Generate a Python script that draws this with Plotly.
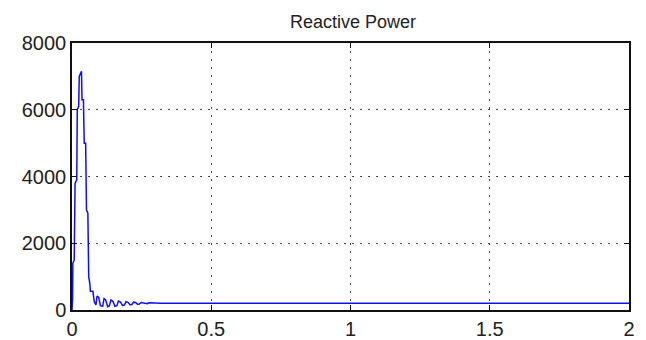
import plotly.graph_objects as go

time_s = [0, 0.002, 0.003, 0.008, 0.011, 0.017, 0.019, 0.024, 0.026, 0.034, 0.036, 0.041,
          0.044, 0.049, 0.052, 0.057, 0.060, 0.064, 0.066, 0.075,
          0.080, 0.086, 0.090, 0.096, 0.102, 0.110, 0.115, 0.121, 0.128, 0.134, 0.140,
          0.147, 0.154, 0.161, 0.167, 0.174, 0.181, 0.188, 0.194, 0.201, 0.208, 0.215,
          0.221, 0.228, 0.235, 0.242, 0.248, 0.255, 0.262, 0.270, 0.276, 0.290, 0.305,
          0.320, 0.340, 2.0]
reactive_power = [0, 300, 1400, 1500, 3800, 3900, 6000, 6100, 7000, 7150, 6300, 6300,
                  5000, 5000, 3000, 2900, 1000, 800, 560, 560,
                  250, 150, 420, 380, 130, 110, 340, 300, 100, 120, 300,
                  260, 110, 130, 270, 240, 140, 150, 250, 230, 160, 165,
                  235, 225, 175, 180, 225, 215, 185, 190, 215, 205, 195,
                  205, 200, 200]

x_ticks = [0, 0.5, 1, 1.5, 2]
x_tick_labels = ["0", "0.5", "1", "1.5", "2"]
y_ticks = [0, 2000, 4000, 6000, 8000]
y_tick_labels = ["0", "2000", "4000", "6000", "8000"]

fig = go.Figure()
fig.add_trace(go.Scatter(x=time_s, y=reactive_power, mode="lines",
                         line=dict(color="#1010ee", width=1.5), showlegend=False))

axis_common = dict(showline=True, linecolor="#111111", linewidth=1.5, mirror="ticks",
                   ticks="inside", ticklen=5, tickcolor="#111111",
                   showgrid=True, gridcolor="#444444", gridwidth=1, griddash="2px,6px",
                   zeroline=False, automargin=False,
                   tickfont=dict(family="Liberation Sans, Arial", size=20, color="#222222"))

fig.update_xaxes(range=[0, 2], tickvals=x_ticks, ticktext=x_tick_labels, **axis_common)
fig.update_yaxes(range=[0, 8000], tickvals=y_ticks, ticktext=y_tick_labels, **axis_common)

fig.update_layout(
    width=646, height=340,
    margin=dict(l=72, r=17, t=43, b=30),
    paper_bgcolor="white", plot_bgcolor="white",
    title=dict(text="Reactive Power", x=(72 + 629) / 2 / 646 + 0.004, xanchor="center",
               y=1 - 22 / 340, yanchor="middle",
               font=dict(family="Liberation Sans, Arial", size=18, color="#222222")),
)

fig.write_html("out.html")
